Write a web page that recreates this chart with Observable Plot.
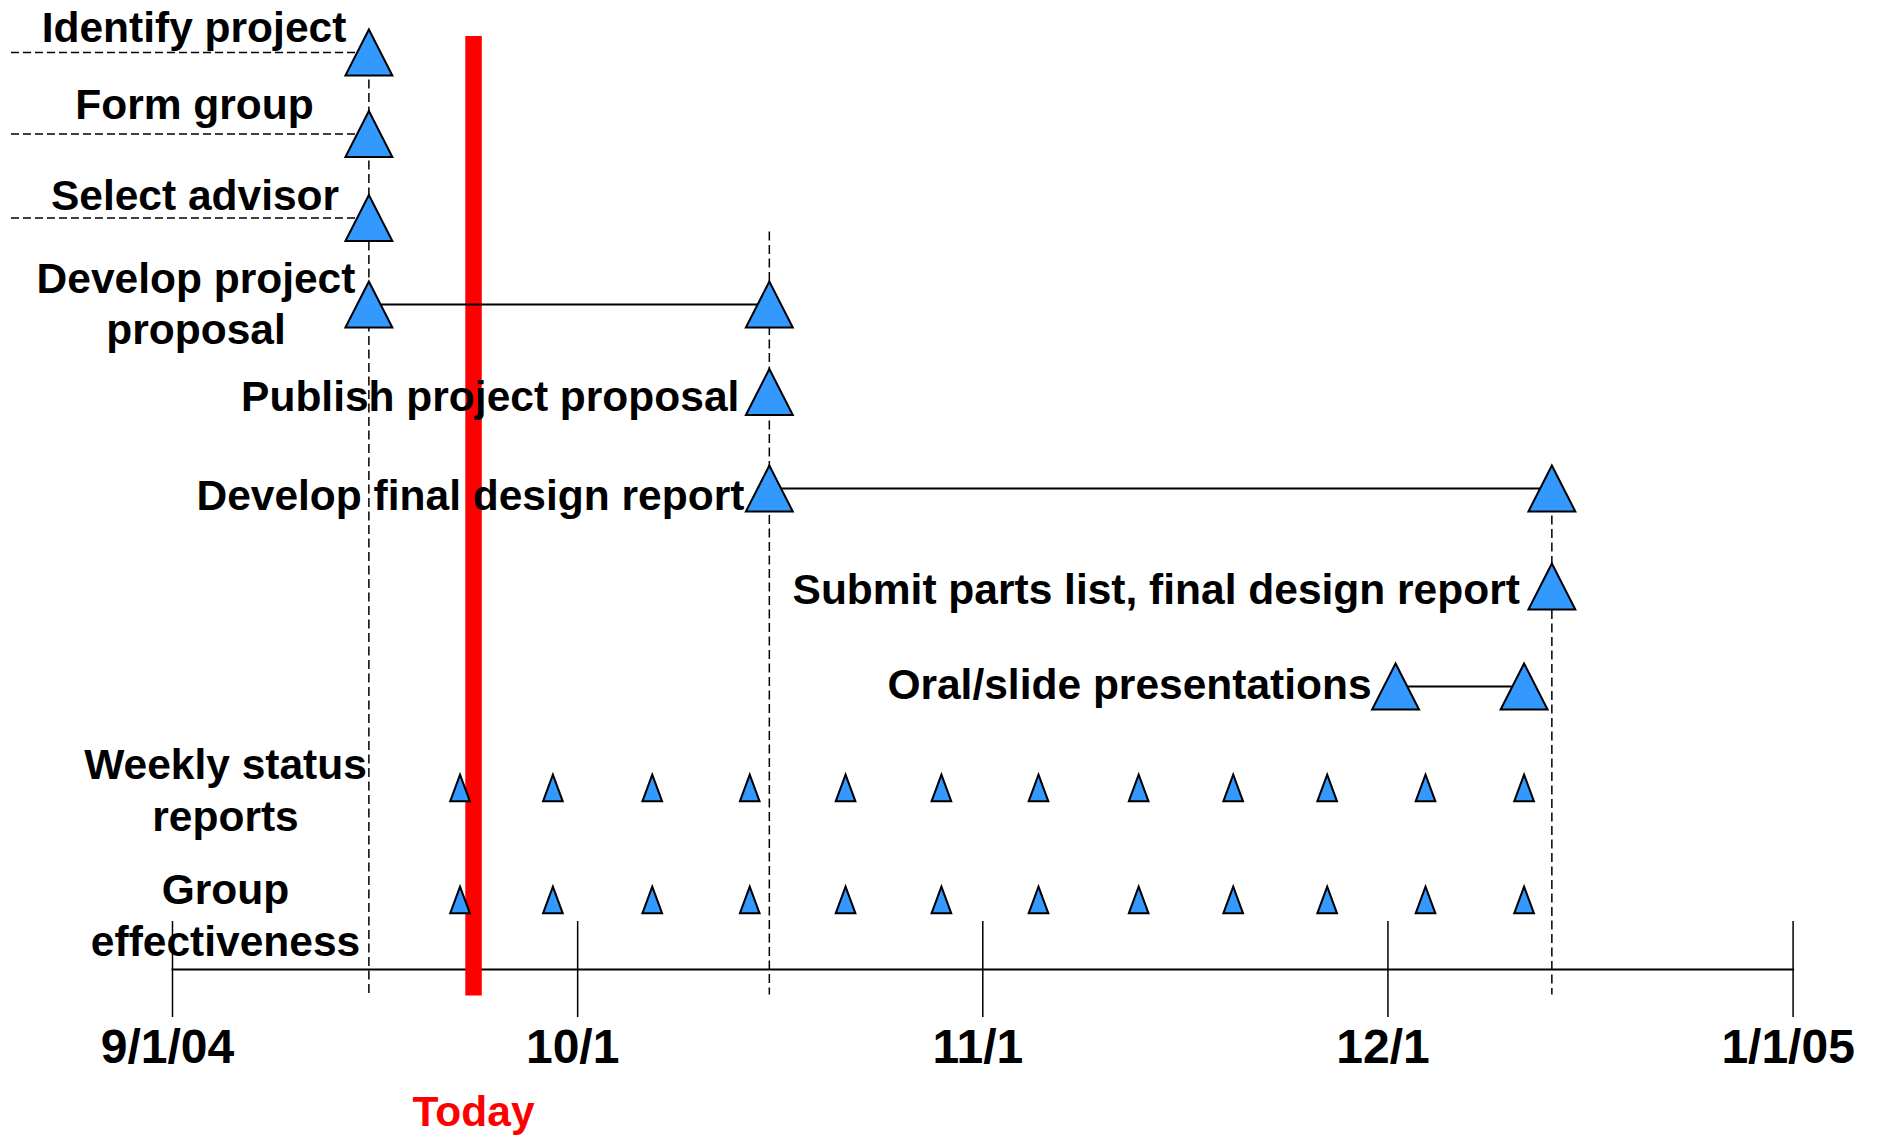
<!DOCTYPE html>
<html>
<head>
<meta charset="utf-8">
<script src="https://cdn.jsdelivr.net/npm/d3@7"></script>
<script src="https://cdn.jsdelivr.net/npm/@observablehq/plot@0.6"></script>
<style>
  html, body { margin: 0; padding: 0; background: #ffffff; overflow: hidden; }
</style>
</head>
<body>
<div id="chart"></div>
<script>
// ---------- data ----------
const tickDates  = ["2004-09-01", "2004-10-01", "2004-11-01", "2004-12-01", "2005-01-01"];
const tickLabels = ["9/1/04", "10/1", "11/1", "12/1", "1/1/05"];

const rows = [
  "Identify project",
  "Form group",
  "Select advisor",
  "Develop project proposal",
  "Publish project proposal",
  "Develop final design report",
  "Submit parts list, final design report",
  "Oral/slide presentations",
  "Weekly status reports",
  "Group effectiveness"
];
const rowLabels = [
  "Identify project",
  "Form group",
  "Select advisor",
  "Develop project\nproposal",
  "Publish project proposal",
  "Develop final design report",
  "Submit parts list, final design report",
  "Oral/slide presentations",
  "Weekly status\nreports",
  "Group\neffectiveness"
];

// milestone triangles (large)
const milestoneRow = [
  "Identify project", "Form group", "Select advisor",
  "Develop project proposal", "Develop project proposal",
  "Publish project proposal",
  "Develop final design report", "Develop final design report",
  "Submit parts list, final design report",
  "Oral/slide presentations", "Oral/slide presentations"
];
const milestoneDate = [
  "2004-09-15T13:00", "2004-09-15T13:00", "2004-09-15T13:00",
  "2004-09-15T13:00", "2004-10-15T16:00",
  "2004-10-15T16:00",
  "2004-10-15T16:00", "2004-12-13T13:00",
  "2004-12-13T13:00",
  "2004-12-01T14:00", "2004-12-11T10:00"
];

// activity spans (solid lines)
const spanRow   = ["Develop project proposal", "Develop final design report", "Oral/slide presentations"];
const spanStart = ["2004-09-15T13:00", "2004-10-15T16:00", "2004-12-01T14:00"];
const spanEnd   = ["2004-10-15T16:00", "2004-12-13T13:00", "2004-12-11T10:00"];

// recurring (small triangles)
const recurringRows = ["Weekly status reports", "Group effectiveness"];
const weeklyDates = [
  "2004-09-22T07:00", "2004-09-29T04:00", "2004-10-06T17:00", "2004-10-14T04:00",
  "2004-10-21T12:00", "2004-10-28T20:00", "2004-11-05T03:00", "2004-11-12T13:00",
  "2004-11-19T13:00", "2004-11-26T12:00", "2004-12-03T21:00", "2004-12-11T10:00"
];

// dashed deadline guides
const guideDates = ["2004-09-15T13:00", "2004-10-15T16:00", "2004-12-13T13:00"];
const guideFrom  = ["Identify project", "Select advisor", "Develop final design report"];

const todayDate  = "2004-09-23T07:00";
const todayLabel = "Today";

// ---------- layout ----------
const W = 1877, H = 1137;
const marginLeft = 172, marginRight = 84.4, marginBottom = 168;
const rowY = [52, 133.5, 217.5, 304, 391.5, 488, 586, 686, 787.5, 899.5];
// per-label placement: free labels sit in the left gutter (centred), others end just left of their first triangle
const labelPlace = [
  {free: true,  dx: 21.5, dy: -10.3, lh: 1.2},
  {free: true,  dx: 22,   dy: -15.2, lh: 1.2},
  {free: true,  dx: 22.5, dy: -8.2,  lh: 1.2},
  {free: true,  dx: 23.5, dy: 39,    lh: 1.18},
  {free: false, dx: -30,  dy: 18.5,  lh: 1.2},
  {free: false, dx: -25,  dy: 21,    lh: 1.2},
  {free: false, dx: -32,  dy: 17.7,  lh: 1.2},
  {free: false, dx: -24,  dy: 12.5,  lh: 1.2},
  {free: true,  dx: 53,   dy: 43,    lh: 1.22},
  {free: true,  dx: 53,   dy: 55.5,  lh: 1.22}
];
const tickHalf = 48;
const font = "'Liberation Sans', Arial, Helvetica, sans-serif";
const blue = "#3399ff";
const labelSize = 42.5;

// ---------- helpers ----------
const utc = s => new Date(s.length === 10 ? s + "T00:00Z" : s + "Z");
const ri = name => rows.indexOf(name);
function triangle(k) {
  return {
    draw(context, size) {
      const r = Math.sqrt(size / Math.PI);
      context.moveTo(0, -r);
      context.lineTo(r * k, r);
      context.lineTo(-r * k, r);
      context.closePath();
    }
  };
}
const bigTri = triangle(1.02);
const smallTri = triangle(0.74);

// ---------- tables ----------
const milestones = milestoneRow.map((r, i) => ({row: ri(r), date: utc(milestoneDate[i])}));
const recurring = recurringRows.flatMap(r => weeklyDates.map(d => ({row: ri(r), date: utc(d)})));
const spans = spanRow.map((r, i) => ({row: ri(r), start: utc(spanStart[i]), end: utc(spanEnd[i])}));
const guides = guideDates.map((d, i) => ({date: utc(d), from: ri(guideFrom[i]), to: rows.length - 1}));
const leaders = rows.slice(0, 3).map(r => ({
  row: ri(r),
  start: utc(tickDates[0]),
  end: milestones.find(m => m.row === ri(r)).date
}));
const firstDate = r => d3.min(milestones.filter(m => m.row === r), m => m.date);
const labels = rows.map((r, i) => ({row: i, text: rowLabels[i], date: firstDate(i)}));
const ticks = tickDates.map((d, i) => ({date: utc(d), label: tickLabels[i]}));

const dash = "8,4";
const textOpts = {fontSize: labelSize, fontWeight: "bold", fill: "black", fontFamily: font};

const labelMarks = labels.map((l, i) => {
  const p = labelPlace[i];
  return p.free
    ? Plot.text([l], {y: "row", text: "text", frameAnchor: "left", dx: p.dx, dy: p.dy,
        lineAnchor: "bottom", textAnchor: "middle", lineHeight: p.lh, ...textOpts})
    : Plot.text([l], {x: "date", y: "row", text: "text", dx: p.dx, dy: p.dy,
        lineAnchor: "bottom", textAnchor: "end", lineHeight: p.lh, ...textOpts});
});

const chart = Plot.plot({
  width: W,
  height: H,
  marginLeft,
  marginRight,
  marginTop: 0,
  marginBottom,
  style: {fontFamily: font, fontWeight: "bold", background: "#ffffff", color: "#000000"},
  x: {type: "utc", domain: ticks.map(t => t.date), axis: null},
  y: {type: "linear", domain: rows.map((_, i) => i), range: rowY, axis: null},
  marks: [
    // dashed leaders for the first three milestones
    Plot.ruleY(leaders, {y: "row", x1: "start", x2: "end", insetLeft: -161,
      stroke: "#000", strokeWidth: 1.5, strokeDasharray: dash}),
    // dashed vertical deadline guides
    Plot.ruleX(guides, {x: "date", y1: "from", y2: "to", insetTop: 14, insetBottom: -95,
      stroke: "#000", strokeWidth: 1.5, strokeDasharray: "9,4.5"}),
    // time axis: baseline, ticks crossing it, labels
    Plot.frame({anchor: "bottom", stroke: "#000", strokeWidth: 2}),
    Plot.tickX(ticks, {x: "date", insetTop: H - marginBottom - tickHalf, insetBottom: -tickHalf,
      stroke: "#000", strokeWidth: 1.5}),
    Plot.text(ticks, {x: "date", text: "label", frameAnchor: "bottom", lineAnchor: "top",
      dy: tickHalf + 11, dx: -5, textAnchor: "middle",
      fontSize: 48, fontWeight: "bold", fontFamily: font, fill: "#000"}),
    // today
    Plot.ruleX([utc(todayDate)], {x: d => d, y1: () => 0, y2: () => rows.length - 1,
      insetTop: -16, insetBottom: -96, stroke: "#ff0000", strokeWidth: 16.5}),
    // spans
    Plot.ruleY(spans, {y: "row", x1: "start", x2: "end", stroke: "#000", strokeWidth: 2}),
    // triangles
    Plot.dot(milestones, {x: "date", y: "row", symbol: bigTri, r: 23,
      fill: blue, stroke: "#000", strokeWidth: 2}),
    Plot.dot(recurring, {x: "date", y: "row", symbol: smallTri, r: 13.3,
      fill: blue, stroke: "#000", strokeWidth: 2}),
    // labels
    ...labelMarks,
    Plot.text([todayLabel], {x: () => utc(todayDate), text: d => d, frameAnchor: "bottom",
      lineAnchor: "bottom", dy: 156, textAnchor: "middle",
      fontSize: labelSize, fontWeight: "bold", fontFamily: font, fill: "#ff0000"})
  ]
});

document.getElementById("chart").appendChild(chart);
</script>
</body>
</html>
